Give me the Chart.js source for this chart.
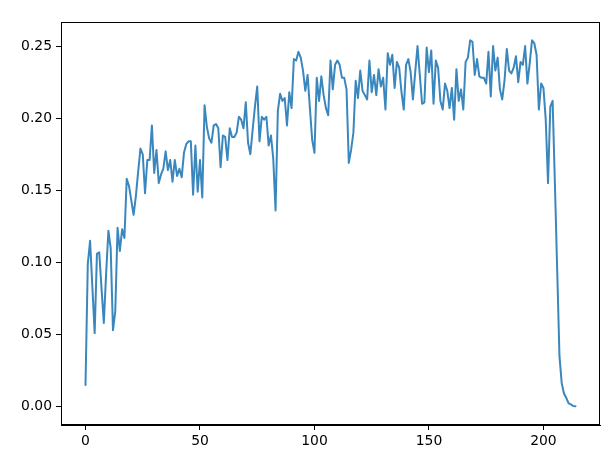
<!DOCTYPE html>
<html>
<head>
<meta charset="utf-8">
<script src="https://cdn.jsdelivr.net/npm/chart.js@4/dist/chart.umd.min.js"></script>
<style>
  html, body { margin: 0; padding: 0; background: #ffffff; }
  #wrap { width: 611px; height: 455px; }
</style>
</head>
<body>
<div id="wrap"><canvas id="c" width="611" height="455"></canvas></div>
<script>
// ---- data ----
const seriesValues = [
  0.015, 0.099, 0.115, 0.083, 0.051, 0.106, 0.107, 0.082, 0.058, 0.092,
  0.122, 0.110, 0.053, 0.066, 0.124, 0.108, 0.123, 0.117, 0.158, 0.153,
  0.143, 0.133, 0.146, 0.163, 0.179, 0.175, 0.148, 0.171, 0.171, 0.195,
  0.162, 0.178, 0.155, 0.161, 0.165, 0.177, 0.164, 0.171, 0.156, 0.171,
  0.160, 0.165, 0.159, 0.176, 0.182, 0.184, 0.184, 0.147, 0.181, 0.149,
  0.171, 0.145, 0.209, 0.194, 0.186, 0.183, 0.195, 0.196, 0.193, 0.166,
  0.188, 0.187, 0.171, 0.193, 0.187, 0.187, 0.190, 0.201, 0.199, 0.193,
  0.211, 0.183, 0.175, 0.192, 0.208, 0.222, 0.184, 0.201, 0.199, 0.201,
  0.181, 0.188, 0.172, 0.136, 0.205, 0.217, 0.212, 0.214, 0.195, 0.218,
  0.207, 0.241, 0.240, 0.246, 0.242, 0.233, 0.219, 0.230, 0.207, 0.185,
  0.176, 0.228, 0.212, 0.229, 0.216, 0.207, 0.202, 0.240, 0.220, 0.237,
  0.240, 0.237, 0.228, 0.228, 0.220, 0.169, 0.178, 0.190, 0.226, 0.214,
  0.233, 0.219, 0.216, 0.213, 0.240, 0.218, 0.230, 0.216, 0.234, 0.222,
  0.228, 0.206, 0.245, 0.237, 0.244, 0.221, 0.239, 0.235, 0.218, 0.206,
  0.237, 0.241, 0.232, 0.213, 0.232, 0.250, 0.230, 0.210, 0.211, 0.249,
  0.232, 0.247, 0.210, 0.240, 0.235, 0.212, 0.206, 0.224, 0.219, 0.207,
  0.221, 0.199, 0.234, 0.212, 0.220, 0.206, 0.239, 0.242, 0.254, 0.253,
  0.230, 0.241, 0.229, 0.228, 0.228, 0.224, 0.246, 0.215, 0.250, 0.233,
  0.242, 0.220, 0.213, 0.226, 0.248, 0.233, 0.231, 0.235, 0.243, 0.225,
  0.239, 0.237, 0.250, 0.224, 0.238, 0.254, 0.252, 0.244, 0.206, 0.224,
  0.221, 0.199, 0.155, 0.208, 0.212, 0.155, 0.095, 0.035, 0.016, 0.009,
  0.006, 0.0023, 0.0016, 0.0005, 0.0003
];
const xCategories = seriesValues.map((_, i) => i);   // x positions 0..214
const xTickValues = [0, 50, 100, 150, 200];
const yTickValues = [0.00, 0.05, 0.10, 0.15, 0.20, 0.25];

// ---- chart ----
const points = xCategories.map((x, i) => ({ x: x, y: seriesValues[i] }));
const FONT = { family: "'DejaVu Sans', sans-serif", size: 13.9 };

const frame = {
  id: 'frame',
  afterDraw(chart) {
    const a = chart.chartArea, ctx = chart.ctx;
    ctx.save();
    ctx.strokeStyle = '#000';
    ctx.lineWidth = 1;
    ctx.strokeRect(Math.round(a.left) + 0.5, Math.round(a.top) + 0.5,
                   Math.round(a.right - a.left) - 1, Math.round(a.bottom - a.top) - 1);
    ctx.restore();
  }
};

new Chart(document.getElementById('c'), {
  type: 'scatter',
  data: {
    datasets: [{
      data: points,
      showLine: true,
      borderColor: 'rgb(58,135,190)',
      backgroundColor: 'rgb(58,135,190)',
      borderWidth: 2,
      pointRadius: 0,
      tension: 0,
      borderJoinStyle: 'round',
      borderCapStyle: 'round'
    }]
  },
  options: {
    responsive: false,
    animation: false,
    devicePixelRatio: 1,
    layout: { padding: { top: 22, right: 11, left: 0, bottom: 0 } },
    plugins: { legend: { display: false }, tooltip: { enabled: false } },
    scales: {
      x: {
        type: 'linear',
        min: -10.7,
        max: 224.7,
        afterBuildTicks: s => { s.ticks = xTickValues.map(v => ({ value: v })); },
        afterFit: s => { s.height = 30; },
        grid: { drawOnChartArea: false, drawTicks: true, tickLength: 5, tickColor: '#000' },
        border: { display: true, color: '#000', width: 1 },
        ticks: { color: '#000', font: FONT, padding: 3, maxRotation: 0,
                 callback: v => String(v) }
      },
      y: {
        type: 'linear',
        min: -0.0127,
        max: 0.2667,
        afterBuildTicks: s => { s.ticks = yTickValues.map(v => ({ value: v })); },
        afterFit: s => { s.width = 61; },
        grid: { drawOnChartArea: false, drawTicks: true, tickLength: 5, tickColor: '#000' },
        border: { display: true, color: '#000', width: 1 },
        ticks: { color: '#000', font: FONT, padding: 4,
                 callback: v => Number(v).toFixed(2) }
      }
    }
  },
  plugins: [frame]
});
</script>
</body>
</html>
